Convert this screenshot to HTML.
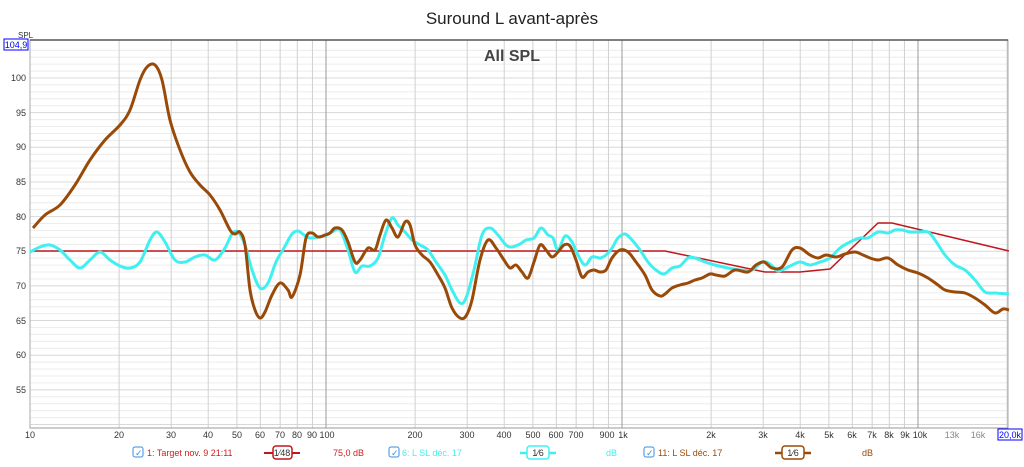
<!DOCTYPE html>
<html><head><meta charset="utf-8"><style>
body{margin:0;background:#fff;width:1024px;height:462px;overflow:hidden;font-family:"Liberation Sans",sans-serif}
svg text{font-family:"Liberation Sans",sans-serif}
</style></head><body>
<svg id="s" width="1024" height="462" xmlns="http://www.w3.org/2000/svg">
<rect width="1024" height="462" fill="#fff"/>
<g id="grid"></g>
<rect x="30" y="40" width="978" height="388" fill="none" stroke="#aaa"/>
<line x1="30" y1="40" x2="1008" y2="40" stroke="#555" stroke-width="1.5"/>
<line x1="30" y1="428" x2="1008" y2="428" stroke="#999"/>
<text x="512" y="24" font-size="17" text-anchor="middle" fill="#222">Suround L avant-après</text>
<text x="512" y="61" font-size="16" font-weight="bold" text-anchor="middle" fill="#444">All SPL</text>
<text x="18" y="38" font-size="8" fill="#333">SPL</text>
<rect x="4" y="39" width="24" height="11" fill="#fff" stroke="#00f"/>
<text x="16" y="48" font-size="9" text-anchor="middle" fill="#00f">104,9</text>
<g font-size="9" fill="#333" text-anchor="end">
<text x="26" y="81">100</text><text x="26" y="116">95</text><text x="26" y="150">90</text><text x="26" y="185">85</text><text x="26" y="220">80</text><text x="26" y="254">75</text><text x="26" y="289">70</text><text x="26" y="324">65</text><text x="26" y="358">60</text><text x="26" y="393">55</text>
</g>
<g font-size="9" fill="#333" text-anchor="middle">
<text x="30" y="438">10</text><text x="119" y="438">20</text><text x="171" y="438">30</text><text x="208" y="438">40</text><text x="237" y="438">50</text><text x="260" y="438">60</text><text x="280" y="438">70</text><text x="297" y="438">80</text><text x="312" y="438">90</text><text x="327" y="438">100</text>
<text x="415" y="438">200</text><text x="467" y="438">300</text><text x="504" y="438">400</text><text x="533" y="438">500</text><text x="556" y="438">600</text><text x="576" y="438">700</text><text x="607" y="438">900</text><text x="623" y="438">1k</text>
<text x="711" y="438">2k</text><text x="763" y="438">3k</text><text x="800" y="438">4k</text><text x="829" y="438">5k</text><text x="852" y="438">6k</text><text x="872" y="438">7k</text><text x="889" y="438">8k</text><text x="905" y="438">9k</text><text x="920" y="438">10k</text>
<text x="952" y="438" fill="#888">13k</text><text x="978" y="438" fill="#888">16k</text>
</g>
<rect x="998" y="429" width="24" height="11" fill="#fff" stroke="#00f"/>
<text x="1010" y="438" font-size="9" text-anchor="middle" fill="#00f">20,0k</text>
<polyline fill="none" stroke="#c0161c" stroke-width="1.5" points="30,251 665,251 765,272 800,272 830,269 878,223 892,223 1009,251"/>
<polyline class="sm" fill="none" stroke="#40f0f0" stroke-width="3" stroke-linejoin="round" points="30,252 40,247 50,245 60,250 70,260 80,268 90,260 100,252 110,260 120,266 130,268 140,262 150,240 157,232 165,242 175,260 185,262 195,257 205,255 215,260 225,248 232,234 238,232 245,245 252,270 260,288 268,283 276,262 284,248 292,234 298,231 304,235 310,238 318,237 325,236 332,232 340,230 348,250 355,272 362,266 370,266 378,258 385,235 392,218 398,225 405,232 412,240 420,245 428,250 436,262 445,275 452,290 460,303 466,298 474,270 482,235 490,228 498,235 506,245 512,247 520,244 526,240 534,238 541,228 548,235 553,238 558,250 565,236 572,242 578,255 585,265 592,257 600,258 606,255 612,248 618,238 625,234 632,240 640,250 648,262 656,270 664,274 672,268 680,266 688,258 695,258 705,262 715,265 728,268 740,270 752,270 762,262 770,264 778,271 790,266 800,262 810,265 820,262 830,258 840,248 850,242 860,238 868,238 878,232 888,233 895,230 902,230 910,232 918,232 928,232 935,240 945,255 955,265 965,270 975,280 985,292 995,293 1009,294"/>
<polyline class="sm" fill="none" stroke="#9a4a08" stroke-width="3" stroke-linejoin="round" points="33,228 45,215 60,205 75,185 90,160 105,140 120,125 130,110 140,80 147,67 155,65 162,80 170,120 180,150 190,172 200,185 210,195 220,210 230,230 235,234 240,232 245,245 250,290 255,310 260,318 265,312 272,295 280,283 288,290 292,297 300,275 306,238 312,233 318,237 325,235 330,233 335,228 342,230 348,242 355,262 360,260 368,248 375,250 380,235 386,220 392,228 398,237 405,222 410,225 415,245 422,255 430,262 438,275 445,288 452,308 460,318 466,316 472,300 480,260 488,240 496,248 504,260 510,268 516,265 522,272 528,278 534,262 540,245 546,250 552,257 558,252 564,245 570,246 576,260 582,277 588,272 594,270 600,272 606,270 612,258 620,250 628,252 636,262 645,275 652,290 660,296 665,294 672,288 680,285 688,283 695,280 702,278 710,274 716,275 725,276 735,270 748,272 756,265 764,262 772,268 782,267 792,250 800,248 810,255 818,258 826,255 836,257 845,254 855,252 863,255 870,258 878,260 888,258 898,265 908,270 918,273 928,278 938,285 945,290 955,292 965,293 975,298 985,305 995,313 1003,309 1009,310"/>
<g font-size="9">
<rect x="133" y="447" width="10" height="10" rx="2" fill="#fff" stroke="#3a8ee6"/><text x="135" y="456" fill="#3a8ee6" font-size="9">✓</text>
<text x="147" y="456" fill="#d02020">1: Target nov. 9 21:11</text>
<line x1="264" y1="453" x2="300" y2="453" stroke="#c0161c" stroke-width="2"/><rect x="273" y="446" width="19" height="13" rx="3" fill="#fff" stroke="#c0161c" stroke-width="1.5"/><text x="282" y="456" text-anchor="middle" fill="#333">1⁄48</text>
<text x="333" y="456" fill="#d02020">75,0 dB</text>
<rect x="389" y="447" width="10" height="10" rx="2" fill="#fff" stroke="#3a8ee6"/><text x="391" y="456" fill="#3a8ee6">✓</text>
<text x="402" y="456" fill="#40f0f0">6: L SL déc. 17</text>
<line x1="520" y1="453" x2="556" y2="453" stroke="#40f0f0" stroke-width="2.5"/><rect x="527" y="446" width="22" height="13" rx="3" fill="#fff" stroke="#40f0f0" stroke-width="1.5"/><text x="538" y="456" text-anchor="middle" fill="#333">1⁄6</text>
<text x="606" y="456" fill="#40f0f0">dB</text>
<rect x="644" y="447" width="10" height="10" rx="2" fill="#fff" stroke="#3a8ee6"/><text x="646" y="456" fill="#3a8ee6">✓</text>
<text x="658" y="456" fill="#9a4a08">11: L SL déc. 17</text>
<line x1="775" y1="453" x2="811" y2="453" stroke="#9a4a08" stroke-width="2.5"/><rect x="782" y="446" width="22" height="13" rx="3" fill="#fff" stroke="#9a4a08" stroke-width="1.5"/><text x="793" y="456" text-anchor="middle" fill="#333">1⁄6</text>
<text x="862" y="456" fill="#9a4a08">dB</text>
</g>
</svg>
<script>
var g=document.getElementById('grid'),h='';
for(var v=50;v<=104;v++){var y=78+(100-v)*6.93;if(y<41||y>427)continue;h+='<line x1="30" x2="1008" y1="'+y+'" y2="'+y+'" stroke="'+(v%5==0?'#d8d8d8':'#ececec')+'"/>';}
[10,100,1000,10000].forEach(function(d){for(var k=1;k<10;k++){var f=d*k;if(f>20000)break;var x=30+296*Math.log10(f/10);h+='<line y1="40" y2="428" x1="'+x+'" x2="'+x+'" stroke="'+(k==1?'#999':'#d0d0d0')+'"/>';}});
g.innerHTML=h;
var ns='http://www.w3.org/2000/svg';
document.querySelectorAll('polyline.sm').forEach(function(pl){
 var p=pl.getAttribute('points').trim().split(/\s+/).map(function(s){return s.split(',').map(Number);});
 var d='M'+p[0][0]+','+p[0][1];
 for(var i=0;i<p.length-1;i++){var p0=p[i-1]||p[i],p1=p[i],p2=p[i+1],p3=p[i+2]||p2;
  d+=' C'+(p1[0]+(p2[0]-p0[0])/6)+','+(p1[1]+(p2[1]-p0[1])/6)+' '+(p2[0]-(p3[0]-p1[0])/6)+','+(p2[1]-(p3[1]-p1[1])/6)+' '+p2[0]+','+p2[1];}
 var e=document.createElementNS(ns,'path');e.setAttribute('d',d);e.setAttribute('fill','none');
 e.setAttribute('stroke',pl.getAttribute('stroke'));e.setAttribute('stroke-width','3');e.setAttribute('stroke-linejoin','round');
 pl.parentNode.replaceChild(e,pl);});
</script>
</body></html>
